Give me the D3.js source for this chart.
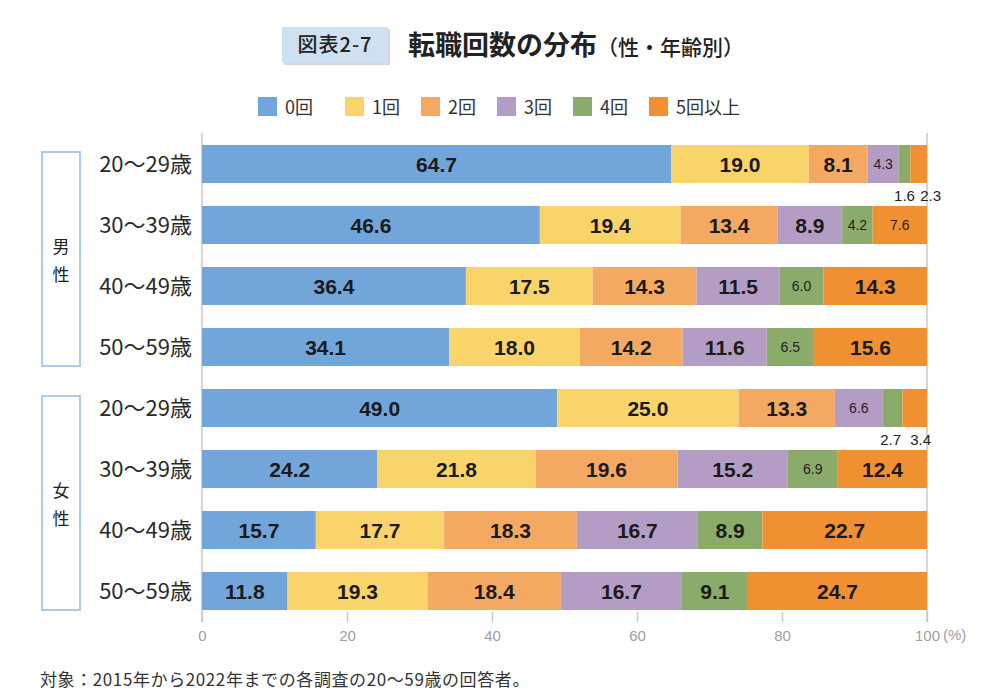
<!DOCTYPE html>
<html><head><meta charset="utf-8">
<script src="https://cdn.jsdelivr.net/npm/d3@7"></script>
<style>body{margin:0;background:#fff}svg{display:block}</style>
</head><body>
<svg id="c" width="1000" height="698"></svg>
<script>
const categories = ["0回","1回","2回","3回","4回","5回以上"];
const colors = ["#72a5d9","#f8d46a","#f4a963","#b39dc5","#8aab69","#f18f33"];
const rowLabels = ["20〜29歳","30〜39歳","40〜49歳","50〜59歳","20〜29歳","30〜39歳","40〜49歳","50〜59歳"];
const groups = [["男","性"],["女","性"]];
const male20 = [64.7,19.0,8.1,4.3,1.6,2.3];
const male30 = [46.6,19.4,13.4,8.9,4.2,7.6];
const male40 = [36.4,17.5,14.3,11.5,6.0,14.3];
const male50 = [34.1,18.0,14.2,11.6,6.5,15.6];
const female20 = [49.0,25.0,13.3,6.6,2.7,3.4];
const female30 = [24.2,21.8,19.6,15.2,6.9,12.4];
const female40 = [15.7,17.7,18.3,16.7,8.9,22.7];
const female50 = [11.8,19.3,18.4,16.7,9.1,24.7];
const xTicks = [0,20,40,60,80,100];
const rows = [male20,male30,male40,male50,female20,female30,female40,female50];

const svg = d3.select("#c");
const FONT = "'Noto Sans CJK JP','Noto Sans',sans-serif";
const NUMF = "'Liberation Sans',Arial,sans-serif";

const x = d3.scaleLinear().domain([0,100]).range([202,927]);
const y = d3.scaleBand().domain(d3.range(8)).range([133.5,621.5]).paddingInner(0.377).paddingOuter(0.1885);

// title
svg.append("rect").attr("x",284).attr("y",29).attr("width",106).attr("height",36).attr("fill","#d6d9dc");
svg.append("rect").attr("x",282).attr("y",27).attr("width",106).attr("height",36).attr("fill","#cfe0f3");
svg.append("text").attr("x",335).attr("y",52).attr("text-anchor","middle").attr("font-family",FONT)
  .attr("font-size",20).attr("font-weight",500).attr("letter-spacing",1).attr("fill","#222").text("図表2-7");
const t = svg.append("text").attr("x",408).attr("y",55).attr("font-family",FONT).attr("fill","#222");
t.append("tspan").attr("font-size",27).attr("font-weight",700).text("転職回数の分布");
t.append("tspan").attr("font-size",21).attr("font-weight",500).text("（性・年齢別）");

// legend
const legX = [258,345,421,497,573,649];
categories.forEach((c,i)=>{
  svg.append("rect").attr("x",legX[i]).attr("y",97).attr("width",19).attr("height",19).attr("fill",colors[i]);
  svg.append("text").attr("x",legX[i]+27).attr("y",114).attr("font-family",FONT).attr("font-size",18)
    .attr("fill","#333").text(c);
});

// vertical lines at 0 and 100
[0,100].forEach(v=>{
  svg.append("line").attr("x1",x(v)).attr("x2",x(v)).attr("y1",133).attr("y2",622)
    .attr("stroke","#c8c8c8").attr("stroke-width",1.5);
});
// axis ticks
const ax = svg.append("g").attr("transform","translate(0,612)")
  .call(d3.axisBottom(x).tickValues(xTicks).tickSize(10).tickPadding(8).tickFormat(d3.format("d")));
ax.select(".domain").remove();
ax.selectAll(".tick line").attr("stroke","#c8c8c8").attr("stroke-width",1.5);
ax.selectAll(".tick text").attr("font-family",NUMF).attr("font-size",15).attr("fill","#a0a0a0");
svg.append("text").attr("x",x(100)+16).attr("y",640).attr("font-family",NUMF).attr("font-size",15)
  .attr("fill","#a0a0a0").text("(%)");

// bars
rows.forEach((vals,r)=>{
  let cum = 0;
  const g = svg.append("g");
  vals.forEach((v,i)=>{
    const s = cum, e = Math.min(cum+v,100);
    cum += v;
    g.append("rect").attr("x",x(s)).attr("y",y(r)).attr("width",Math.max(0,x(e)-x(s)))
      .attr("height",y.bandwidth()).attr("fill",colors[i]);
    const cx = (x(s)+x(e))/2, cy = y(r)+y.bandwidth()/2;
    if (v >= 8) {
      g.append("text").attr("x",cx).attr("y",cy+7.5).attr("text-anchor","middle").attr("font-family",NUMF)
        .attr("font-size",21).attr("font-weight",700).attr("fill","#1a1a1a").text(v.toFixed(1));
    } else if (v >= 4) {
      g.append("text").attr("x",cx).attr("y",cy+5).attr("text-anchor","middle").attr("font-family",NUMF)
        .attr("font-size",14).attr("fill","#222").text(v.toFixed(1));
    }
  });
});
// small values below bars
const belowRows = [0,4];
const belowShift = [[0,12],[-2,6]];
belowRows.forEach((r,k0)=>{
  const vals = rows[r];
  const s4 = d3.sum(vals.slice(0,4));
  const pos = [x(s4+vals[4]/2)+belowShift[k0][0], x(s4+vals[4]+vals[5]/2)+belowShift[k0][1]];
  [4,5].forEach((i,k)=>{
    svg.append("text").attr("x",pos[k]).attr("y",y(r)+y.bandwidth()+18).attr("text-anchor","middle")
      .attr("font-family",NUMF).attr("font-size",15).attr("fill","#222").text(vals[i].toFixed(1));
  });
});

// row labels
rowLabels.forEach((l,r)=>{
  svg.append("text").attr("x",192).attr("y",y(r)+y.bandwidth()/2+8).attr("text-anchor","end")
    .attr("font-family",FONT).attr("font-size",22).attr("fill","#2a2a2a").text(l);
});

// group boxes
groups.forEach((g,k)=>{
  const top = y(k*4)+7, bot = y(k*4+3)+y.bandwidth();
  svg.append("rect").attr("x",42).attr("y",top).attr("width",38).attr("height",bot-top)
    .attr("fill","none").attr("stroke","#a9cdec").attr("stroke-width",2);
  const mid = (top+bot)/2;
  svg.append("text").attr("x",61).attr("y",mid-6).attr("text-anchor","middle").attr("font-family",FONT)
    .attr("font-size",17).attr("fill","#222").text(g[0]);
  svg.append("text").attr("x",61).attr("y",mid+22).attr("text-anchor","middle").attr("font-family",FONT)
    .attr("font-size",17).attr("fill","#222").text(g[1]);
});

// footnote
svg.append("text").attr("x",40).attr("y",686).attr("font-family",FONT).attr("font-size",17)
  .attr("letter-spacing",0.6).attr("fill","#333").text("対象：2015年から2022年までの各調査の20〜59歳の回答者。");
</script>
</body></html>
